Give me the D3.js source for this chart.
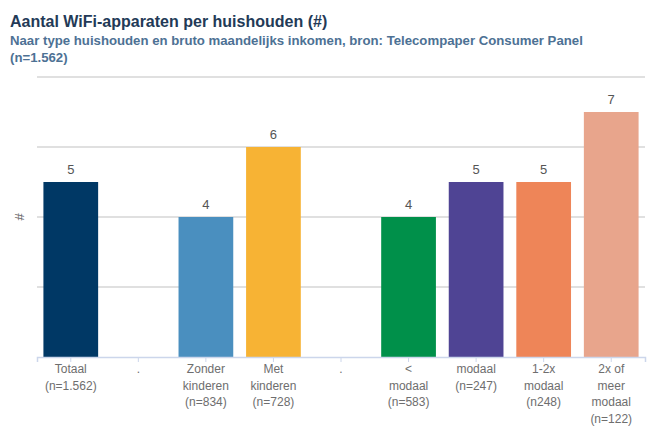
<!DOCTYPE html>
<html>
<head>
<meta charset="utf-8">
<script src="https://cdn.jsdelivr.net/npm/d3@7"></script>
<style>
  body { margin: 0; background: #fff; }
  text { font-family: "Liberation Sans", Arial, sans-serif; }
</style>
</head>
<body>
<div id="chart"></div>
<script>
// categories (multi-line labels), "." are empty spacer columns
var categories = [
  ["Totaal", "(n=1.562)"],
  ["."],
  ["Zonder", "kinderen", "(n=834)"],
  ["Met", "kinderen", "(n=728)"],
  ["."],
  ["<", "modaal", "(n=583)"],
  ["modaal", "(n=247)"],
  ["1-2x", "modaal", "(n248)"],
  ["2x of", "meer", "modaal", "(n=122)"]
];
var values = [5, null, 4, 6, null, 4, 5, 5, 7];
var colors = ["#003865", null, "#4a8fbf", "#f7b334", null, "#00904a", "#4f4494", "#ee8558", "#e8a58c"];
var yTicks = [0, 2, 4, 6, 8];

var width = 656, height = 437;
var margin = {top: 77, right: 11, bottom: 80, left: 37};

var svg = d3.select("#chart")
  .append("svg")
    .attr("width", width)
    .attr("height", height);

// titles
svg.append("text")
  .attr("x", 10).attr("y", 27)
  .attr("font-size", 16).attr("font-weight", "bold")
  .attr("fill", "#233a57")
  .text("Aantal WiFi-apparaten per huishouden (#)");
var sub = svg.append("text")
  .attr("font-size", 13.2).attr("font-weight", "bold")
  .attr("fill", "#4d7194");
sub.append("tspan").attr("x", 10).attr("y", 45)
  .text("Naar type huishouden en bruto maandelijks inkomen, bron: Telecompaper Consumer Panel");
sub.append("tspan").attr("x", 10).attr("y", 62).text("(n=1.562)");

var idx = categories.map(function(d, i) { return i; });

var x = d3.scaleBand()
  .domain(idx)
  .range([margin.left, width - margin.right])
  .paddingInner(0.19)
  .paddingOuter(0.095);

var y = d3.scaleLinear()
  .domain([0, 8])
  .range([height - margin.bottom, margin.top]);

// gridlines
svg.append("g")
  .selectAll("line")
  .data(yTicks.filter(function(t) { return t > 0; }))
  .enter()
  .append("line")
    .attr("x1", margin.left)
    .attr("x2", width - margin.right)
    .attr("y1", function(d) { return y(d); })
    .attr("y2", function(d) { return y(d); })
    .attr("stroke", "#d6d6d6")
    .attr("stroke-width", 1.5);

// y axis title
svg.append("text")
  .attr("transform", "translate(24," + y(4) + ") rotate(-90)")
  .attr("text-anchor", "middle")
  .attr("font-size", 13)
  .attr("fill", "#666")
  .text("#");

// bars
svg.append("g")
  .selectAll("rect")
  .data(idx.filter(function(i) { return values[i] != null; }))
  .enter()
  .append("rect")
    .attr("x", function(i) { return x(i); })
    .attr("y", function(i) { return y(values[i]); })
    .attr("width", x.bandwidth())
    .attr("height", function(i) { return y(0) - y(values[i]); })
    .attr("fill", function(i) { return colors[i]; });

// data labels
svg.append("g")
  .selectAll("text")
  .data(idx.filter(function(i) { return values[i] != null; }))
  .enter()
  .append("text")
    .attr("x", function(i) { return x(i) + x.bandwidth() / 2; })
    .attr("y", function(i) { return y(values[i]) - 8; })
    .attr("text-anchor", "middle")
    .attr("font-size", 13)
    .attr("fill", "#555")
    .text(function(i) { return values[i]; });

// x axis
var xAxis = svg.append("g")
  .attr("transform", "translate(0," + y(0) + ")")
  .call(d3.axisBottom(x).tickSize(5).tickFormat(""));
xAxis.select(".domain").attr("stroke", "#ccd6eb").attr("stroke-width", 1.5);
xAxis.selectAll(".tick line").attr("stroke", "#ccd6eb");

xAxis.selectAll(".tick")
  .append("text")
    .attr("text-anchor", "middle")
    .attr("font-size", 12)
    .attr("fill", "#6e6e6e")
    .selectAll("tspan")
    .data(function(i) { return categories[i]; })
    .enter()
    .append("tspan")
      .attr("x", 0)
      .attr("y", function(d, j) { return 16 + j * 16.5; })
      .text(function(d) { return d; });
</script>
</body>
</html>
